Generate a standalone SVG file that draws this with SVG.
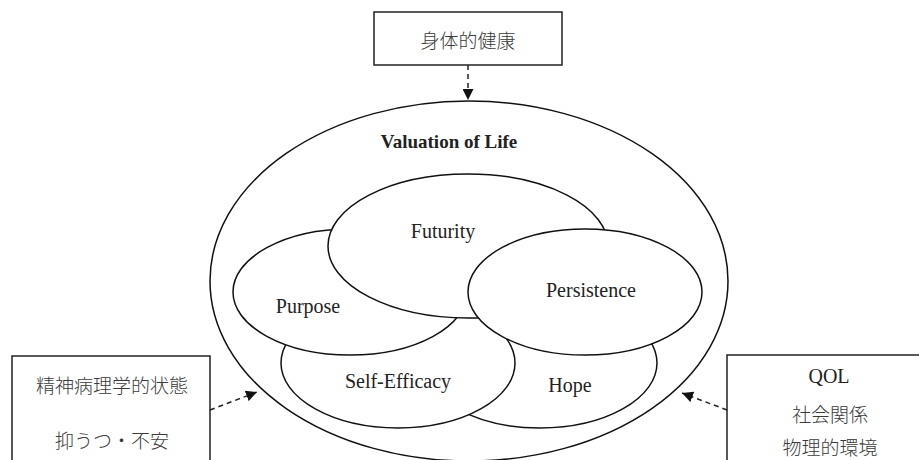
<svg xmlns="http://www.w3.org/2000/svg" width="919" height="460" viewBox="0 0 919 460">
<style>
.box{fill:#fff;stroke:#222;stroke-width:1.5}
.ell{fill:#fff;stroke:#111;stroke-width:1.5}
.outer{fill:none;stroke:#111;stroke-width:1.5}
.en{font-family:"Liberation Serif","Noto Sans CJK JP",serif;font-size:20px;fill:#222;text-anchor:middle}
.ja{font-family:"Noto Sans CJK JP",sans-serif;font-size:19px;font-weight:300;fill:#3a3a3a;text-anchor:middle}
.title{font-family:"Liberation Serif",serif;font-size:19px;font-weight:bold;fill:#222;text-anchor:middle}
.conn{fill:none;stroke:#222;stroke-width:1.5;stroke-dasharray:5 4;marker-end:url(#ah)}
</style>
<defs>
<marker id="ah" viewBox="0 0 10 10" refX="10" refY="5" markerWidth="11" markerHeight="11" markerUnits="userSpaceOnUse" orient="auto">
<path d="M0,0 L10,5 L0,10 z" fill="#111"/>
</marker>
</defs>
<rect width="919" height="460" fill="#fff"/>
<g id="valuation">
<ellipse class="outer" cx="469" cy="281" rx="259" ry="180"/>
<text class="title" x="449" y="148">Valuation of Life</text>
</g>
<g id="hope">
<ellipse class="ell" cx="540" cy="363" rx="117" ry="65"/>
<text class="en" x="570" y="392">Hope</text>
</g>
<g id="self-efficacy">
<ellipse class="ell" cx="398" cy="363" rx="117" ry="65"/>
<text class="en" x="398" y="388">Self-Efficacy</text>
</g>
<g id="purpose">
<ellipse class="ell" cx="350" cy="292" rx="117" ry="63"/>
<text class="en" x="308" y="313">Purpose</text>
</g>
<g id="futurity">
<ellipse class="ell" cx="468" cy="246" rx="140" ry="72"/>
<text class="en" x="443" y="238">Futurity</text>
</g>
<g id="persistence">
<ellipse class="ell" cx="585" cy="292" rx="117" ry="63"/>
<text class="en" x="591" y="297">Persistence</text>
</g>
<g id="physical">
<rect class="box" x="374" y="12" width="188" height="53"/>
<text class="ja" x="468" y="48">身体的健康</text>
</g>
<g id="psycho">
<rect class="box" x="12" y="356" width="198" height="110"/>
<text class="ja" x="112" y="393">精神病理学的状態</text>
<text class="ja" x="112" y="448">抑うつ・不安</text>
</g>
<g id="qol">
<rect class="box" x="727" y="355" width="200" height="110"/>
<text class="en" x="829" y="383">QOL</text>
<text class="ja" x="830" y="422">社会関係</text>
<text class="ja" x="830" y="455">物理的環境</text>
</g>
<g id="connectors">
<line class="conn" x1="468" y1="65" x2="468" y2="100"/>
<line class="conn" x1="210" y1="410" x2="257" y2="392"/>
<line class="conn" x1="727" y1="410" x2="682" y2="393"/>
</g>
</svg>
